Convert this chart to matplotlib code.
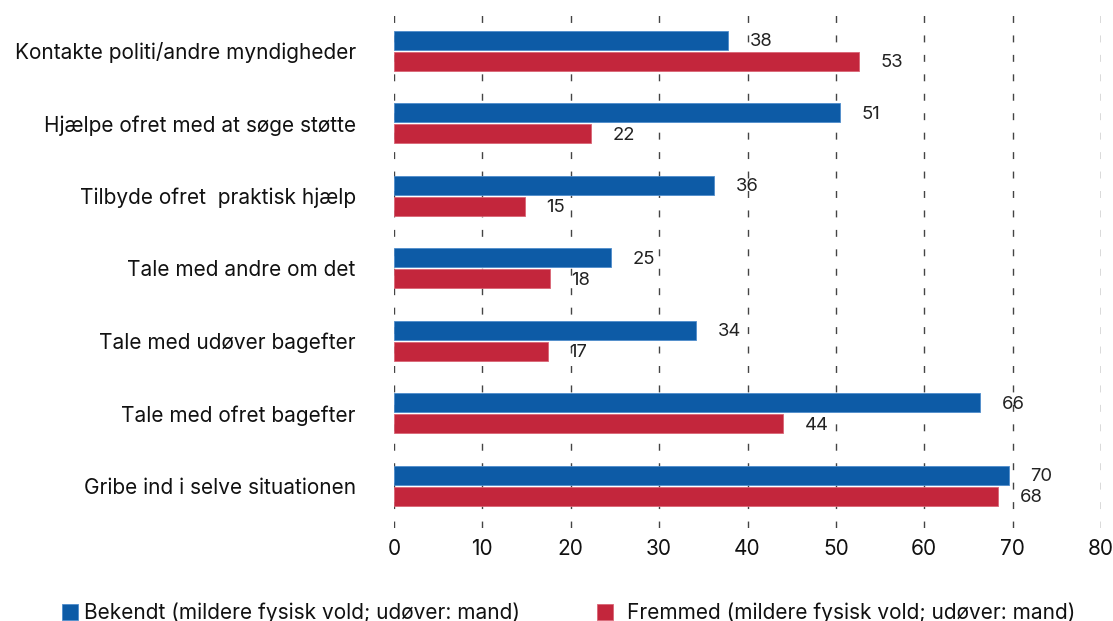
import matplotlib
matplotlib.use("Agg")
import matplotlib.pyplot as plt
import numpy as np

plt.rcParams['font.family'] = ['Inter', 'DejaVu Sans']

categories = [
    'Kontakte politi/andre myndigheder',
    'Hjælpe ofret med at søge støtte',
    'Tilbyde ofret  praktisk hjælp',
    'Tale med andre om det',
    'Tale med udøver bagefter',
    'Tale med ofret bagefter',
    'Gribe ind i selve situationen',
]
bekendt = [37.8, 50.5, 36.2, 24.6, 34.2, 66.3, 69.6]
fremmed = [52.6, 22.3, 14.8, 17.6, 17.4, 44.0, 68.4]
bekendt_labels = ['38', '51', '36', '25', '34', '66', '70']
fremmed_labels = ['53', '22', '15', '18', '17', '44', '68']
legend_names = ['Bekendt (mildere fysisk vold; udøver: mand)',
                'Fremmed (mildere fysisk vold; udøver: mand)']

blue = '#0d5ba6'
red = '#c3263c'

fig = plt.figure(figsize=(11.13, 6.21), dpi=100)
ax = fig.add_axes([394/1113, 1-528/621, (1101-394)/1113, (528-13)/621])

y = np.arange(len(categories))
h = 0.26
off = 0.145
b1 = ax.barh(y - off, bekendt, height=h, color=blue, edgecolor='#4f8ccc', linewidth=0.6)
b2 = ax.barh(y + off, fremmed, height=h, color=red, edgecolor='#d96575', linewidth=0.6)

# value labels to the right of each bar
for bars, labels in ((b1, bekendt_labels), (b2, fremmed_labels)):
    for bar, lab in zip(bars, labels):
        ax.annotate(lab, (bar.get_width(), bar.get_y() + bar.get_height()/2),
                    xytext=(15.5, -1), textcoords='offset points',
                    ha='left', va='center', fontsize=13.3, color='#222222')

ax.set_xlim(0, 80)
ax.set_ylim(6.58, -0.52)
ax.set_xticks(range(0, 81, 10))
ax.set_yticks(y)
ax.set_yticklabels(categories)
ax.tick_params(axis='both', length=0, labelsize=15, colors='#111111')
ax.tick_params(axis='y', pad=27.5)
ax.tick_params(axis='x', pad=8)
for s in ax.spines.values():
    s.set_visible(False)
ax.grid(axis='x', color='#444444', linestyle=(0, (5, 9)), linewidth=1)
ax.set_axisbelow(True)

leg_kw = dict(loc='lower left', frameon=False, handlelength=0.75, handleheight=0.82,
              fontsize=15, borderaxespad=0, labelcolor='#111111', borderpad=0)
fig.legend([b1], [legend_names[0]], bbox_to_anchor=(62/1113, -0.003),
           handletextpad=0.3, **leg_kw)
fig.legend([b2], [legend_names[1]], bbox_to_anchor=(597/1113, -0.003),
           handletextpad=0.7, **leg_kw)

fig.savefig('out.png', dpi=100)
